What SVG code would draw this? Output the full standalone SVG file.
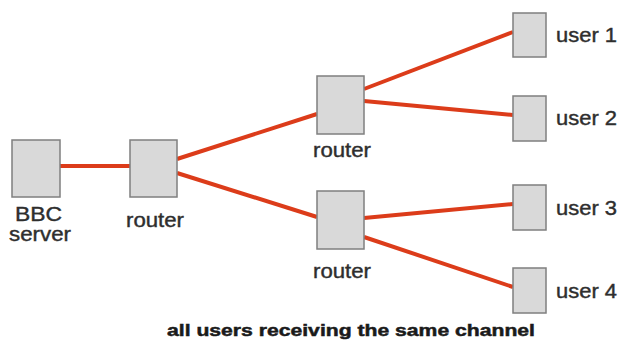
<svg xmlns="http://www.w3.org/2000/svg" width="620" height="344" viewBox="0 0 620 344">
<style>
.box{fill:#d9d9d9;stroke:#7f7f7f;stroke-width:1.5}
.lnk{stroke:#dc3c1a;stroke-width:4;stroke-linecap:butt;fill:none}
.lbl{font-family:"Liberation Sans",Arial,sans-serif;font-size:20px;fill:#2e2e2e;stroke:#2e2e2e;stroke-width:0.4}
.cap{font-family:"Liberation Sans",Arial,sans-serif;font-size:17px;font-weight:bold;fill:#1a1a1a;stroke:#1a1a1a;stroke-width:0.5}
</style>
<rect width="620" height="344" fill="#ffffff"/>
<g id="connectors">
<line class="lnk" x1="60" y1="166" x2="130" y2="166"/>
<line class="lnk" x1="177" y1="159" x2="317" y2="114"/>
<line class="lnk" x1="177" y1="173" x2="317" y2="217"/>
<line class="lnk" x1="364" y1="89" x2="513" y2="32"/>
<line class="lnk" x1="364" y1="101" x2="513" y2="115"/>
<line class="lnk" x1="364" y1="218" x2="513" y2="204"/>
<line class="lnk" x1="364" y1="237" x2="513" y2="287"/>
</g>
<g id="bbc-server">
<rect class="box" x="12" y="140" width="48" height="57"/>
<text class="lbl" x="38.5" y="221" text-anchor="middle" textLength="47" lengthAdjust="spacingAndGlyphs">BBC</text>
<text class="lbl" x="40" y="241" text-anchor="middle" textLength="62" lengthAdjust="spacingAndGlyphs">server</text>
</g>
<g id="router1">
<rect class="box" x="130" y="140" width="47" height="57"/>
<text class="lbl" x="155" y="227" text-anchor="middle" textLength="58" lengthAdjust="spacingAndGlyphs">router</text>
</g>
<g id="router2">
<rect class="box" x="317" y="76" width="47" height="58"/>
<text class="lbl" x="342" y="157" text-anchor="middle" textLength="58" lengthAdjust="spacingAndGlyphs">router</text>
</g>
<g id="router3">
<rect class="box" x="317" y="191" width="47" height="58"/>
<text class="lbl" x="342" y="278" text-anchor="middle" textLength="58" lengthAdjust="spacingAndGlyphs">router</text>
</g>
<g id="user1">
<rect class="box" x="513" y="13" width="33" height="44"/>
<text class="lbl" x="556" y="42" textLength="61" lengthAdjust="spacingAndGlyphs">user 1</text>
</g>
<g id="user2">
<rect class="box" x="513" y="96" width="33" height="45"/>
<text class="lbl" x="556" y="125" textLength="61" lengthAdjust="spacingAndGlyphs">user 2</text>
</g>
<g id="user3">
<rect class="box" x="513" y="185" width="33" height="45"/>
<text class="lbl" x="556" y="215" textLength="61" lengthAdjust="spacingAndGlyphs">user 3</text>
</g>
<g id="user4">
<rect class="box" x="513" y="268" width="33" height="45"/>
<text class="lbl" x="556" y="298" textLength="61" lengthAdjust="spacingAndGlyphs">user 4</text>
</g>
<text class="cap" x="167" y="336" textLength="368" lengthAdjust="spacingAndGlyphs">all users receiving the same channel</text>
</svg>
